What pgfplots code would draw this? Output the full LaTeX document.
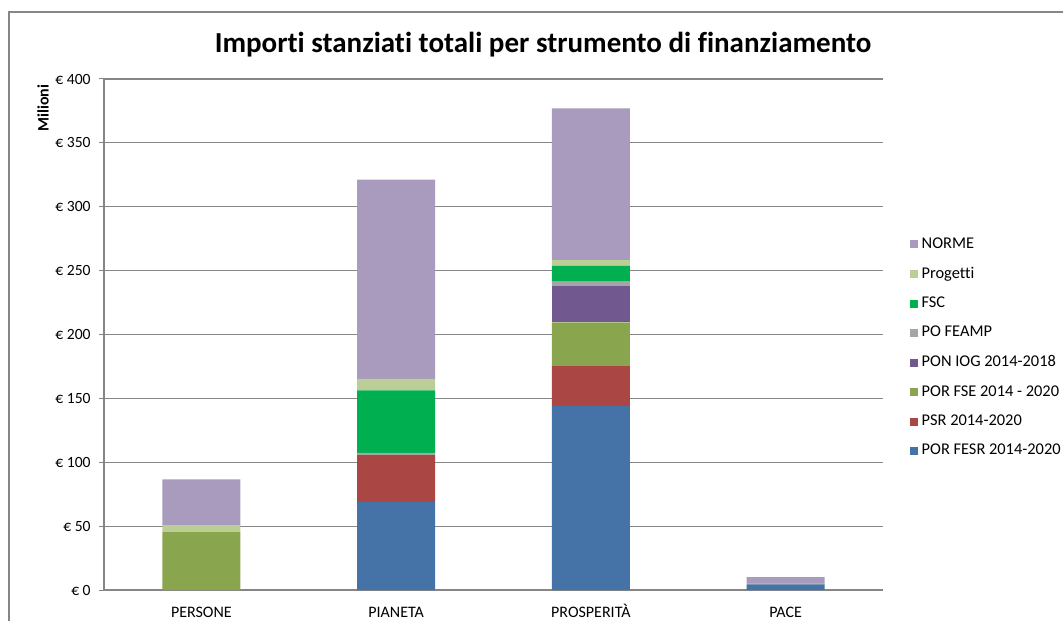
\documentclass[border=0pt]{standalone}
\usepackage{fontspec}
\setmainfont{Carlito}[Ligatures=NoCommon]
\usepackage{pgfplots}
\pgfplotsset{compat=1.18}
\definecolor{cNorme}{RGB}{169,155,189}
\definecolor{cProg}{RGB}{187,206,149}
\definecolor{cFsc}{RGB}{0,176,80}
\definecolor{cFeamp}{RGB}{165,165,165}
\definecolor{cIog}{RGB}{113,88,143}
\definecolor{cFse}{RGB}{137,165,78}
\definecolor{cPsr}{RGB}{170,70,67}
\definecolor{cFesr}{RGB}{69,114,167}
\definecolor{gridgray}{RGB}{134,134,134}

\begin{document}
\begin{tikzpicture}[x=1pt,y=1pt]
  \path[use as bounding box] (0,0) rectangle (531.5,310.5);
  \draw[gridgray, line width=0.7pt] (4.5,0) -- (4.5,304.5) -- (531.5,304.5);
  \node[font=\fontsize{14.5}{16}\selectfont\bfseries] at (271.5,288) {Importi stanziati totali per strumento di finanziamento};
  \node[font=\fontsize{8}{9}\selectfont\bfseries, rotate=90] at (21.5,256.5) {Milioni};
  \begin{axis}[at={(52pt,15.5pt)}, anchor=south west, scale only axis,
    width=389.5pt, height=255.5pt,
    ybar stacked, bar width=0.4,
    xmin=-0.5, xmax=3.5, ymin=0, ymax=400, ytick={0,50,...,400},
    xtick={0,1,2,3}, xticklabels={PERSONE,PIANETA,PROSPERITÀ,PACE},
    extra x ticks={0.5,1.5,2.5,3.5}, extra x tick labels={},
    extra x tick style={major tick length=2.5pt, xtick style={gridgray, line width=0.5pt}},
    major x tick style={draw=none},
    ytick style={gridgray, line width=0.5pt}, major tick length=2.5pt, tick align=outside,
    ymajorgrids, grid style={gridgray, line width=0.6pt},
    axis x line*=bottom, axis y line*=left,
    axis line style={gridgray, line width=0.6pt, -},
    /pgf/number format/assume math mode=true,
    yticklabel={€ \pgfmathprintnumber{\tick}},
    yticklabel style={font=\fontsize{7.8}{9}\selectfont, inner sep=0pt, xshift=-4pt},
    xticklabel style={font=\fontsize{8}{9}\selectfont, inner sep=0pt, anchor=base, yshift=-11pt},
    legend style={at={(1.026,0.706)}, anchor=north west, draw=none, fill=none,
      font=\fontsize{8.2}{9}\selectfont, row sep=3.85pt},
    legend cell align=left, reverse legend,
    legend image code/.code={\fill[#1] (0pt,-2pt) rectangle (4pt,2pt);},
  ]
    \addplot[fill=cFesr, draw=none] coordinates {(0,0) (1,69) (2,144) (3,4.5)};
    \addplot[fill=cPsr, draw=none] coordinates {(0,0) (1,36.5) (2,31.2) (3,0)};
    \addplot[fill=cFse, draw=none] coordinates {(0,45.3) (1,0) (2,34.2) (3,0.5)};
    \addplot[fill=cIog, draw=none] coordinates {(0,0) (1,0) (2,28.3) (3,0)};
    \addplot[fill=cFeamp, draw=none] coordinates {(0,0) (1,1.8) (2,3.7) (3,0)};
    \addplot[fill=cFsc, draw=none] coordinates {(0,0) (1,49) (2,12.3) (3,0)};
    \addplot[fill=cProg, draw=none] coordinates {(0,5) (1,9) (2,4.6) (3,0)};
    \addplot[fill=cNorme, draw=none] coordinates {(0,36.3) (1,156) (2,118.7) (3,5)};
    \legend{POR FESR 2014-2020, PSR 2014-2020, POR FSE 2014 - 2020, PON IOG 2014-2018,
      PO FEAMP, FSC, Progetti, NORME}
  \end{axis}
\end{tikzpicture}
\end{document}
